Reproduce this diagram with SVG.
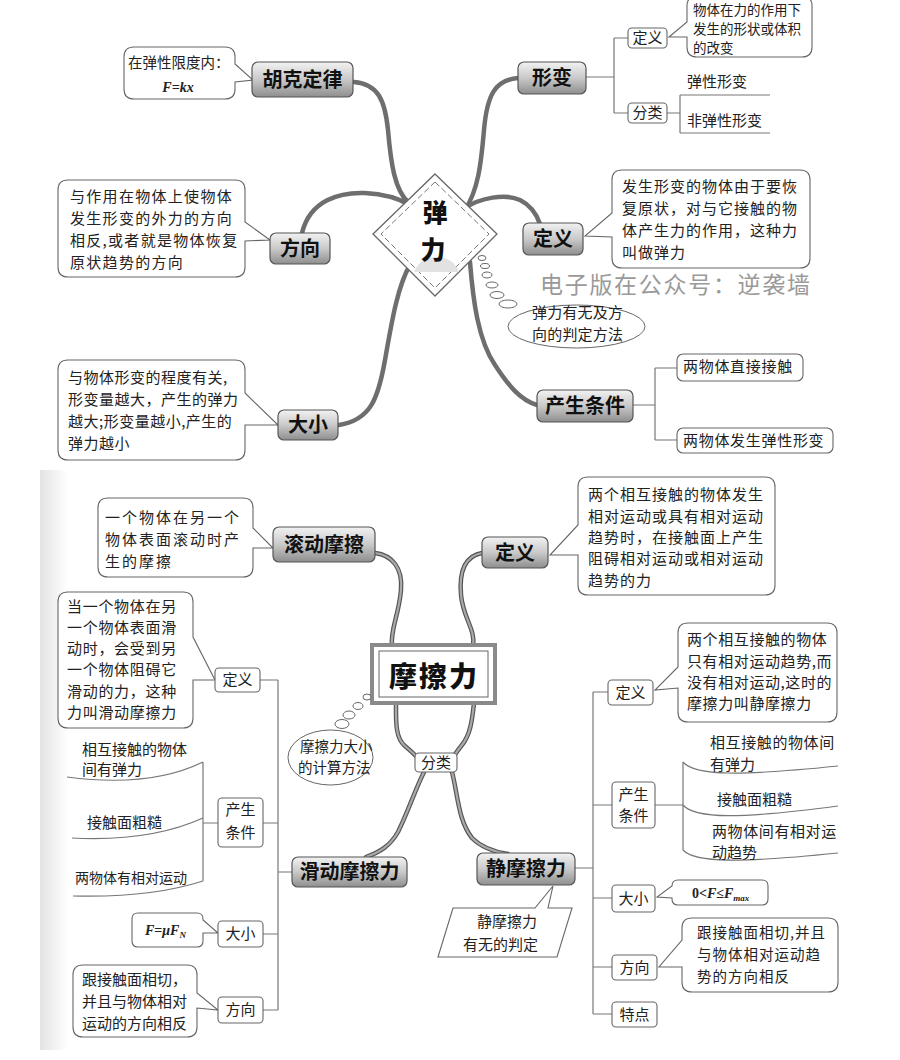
<svg xmlns="http://www.w3.org/2000/svg" width="900" height="1060" viewBox="0 0 900 1060">
<defs>
<linearGradient id="g" x1="0" y1="0" x2="0" y2="1">
<stop offset="0" stop-color="#f2f2f2"/><stop offset="0.5" stop-color="#c9c9c9"/><stop offset="1" stop-color="#8e8e8e"/>
</linearGradient>
<linearGradient id="edge" x1="0" y1="0" x2="1" y2="0">
<stop offset="0" stop-color="#c8c8c8"/><stop offset="1" stop-color="#ffffff"/>
</linearGradient>
<style>
.nd{fill:url(#g);stroke:#555;stroke-width:1.2}
.nt{font-family:'Noto Sans CJK SC',sans-serif;font-weight:700;font-size:20px;text-anchor:middle;fill:#111}
.bx{fill:#fff;stroke:#666;stroke-width:1.1}
.bt{font-family:'Noto Sans CJK SC',sans-serif;font-size:15px;text-anchor:middle;fill:#222}
.co{fill:#fff;stroke:#666;stroke-width:1.1}
.ct{font-family:'Noto Sans CJK SC',sans-serif;font-size:15px;fill:#222}
.fm{font-family:'Liberation Serif',serif;font-style:italic;font-weight:700;font-size:14px;fill:#222}
.br{fill:none;stroke:#777;stroke-width:1.2}
.th{fill:none;stroke:#6e6e6e;stroke-width:4.5;stroke-linecap:round}
.mo{fill:none;stroke:#555;stroke-width:4.5;stroke-linecap:round}
.mi{fill:none;stroke:#aaa;stroke-width:2.2;stroke-linecap:round}
.bub{fill:#fff;stroke:#666;stroke-width:1}
.title{font-family:'Noto Sans CJK SC',sans-serif;font-weight:900;font-size:28px;text-anchor:middle;fill:#111}
</style>
</defs>
<rect width="900" height="1060" fill="#fff"/>
<rect x="40" y="470" width="28" height="580" fill="url(#edge)" opacity="0.5"/>

<!-- watermark -->
<text x="540" y="293" font-family="'Noto Sans CJK SC',sans-serif" font-size="23" letter-spacing="1.7" fill="#9a9a9a">电子版在公众号：逆袭墙</text>

<!-- connectors -->
<g id="connectors">
<path class="th" d="M354,82 C378,84 385,100 388,130 C391,165 395,190 408,202"/>
<path class="th" d="M302,233 C310,200 340,192 365,193 C385,194 398,198 410,205"/>
<path class="th" d="M339,425 C370,420 378,400 385,360 C392,320 398,285 410,265"/>
<path class="th" d="M518,78 C495,80 487,95 484,130 C481,165 478,190 465,210"/>
<path class="th" d="M465,208 C480,198 505,193 520,200 C532,206 537,215 540,224"/>
<path class="th" d="M470,262 C473,300 478,340 495,365 C508,385 520,400 537,405"/>
<path class="br" d="M586,77 H614 M614,38 V113 M614,38 H628 M614,113 H628"/>
<path class="br" d="M667,113 H680 M680,95 V133 M680,95 H770 M680,133 H770"/>
<path class="br" d="M633,405 H655 M655,368 V440 M655,368 H677 M655,440 H677"/>

<g>
<path class="mo" d="M375,553 C392,555 403,568 401,590 C399,615 390,630 392,646"/>
<path class="mi" d="M375,553 C392,555 403,568 401,590 C399,615 390,630 392,646"/>
<path class="mo" d="M482,553 C465,556 459,572 461,595 C463,618 476,630 473,646"/>
<path class="mi" d="M482,553 C465,556 459,572 461,595 C463,618 476,630 473,646"/>
<path class="mo" d="M396,703 C396,720 395,738 405,746 C411,751 415,755 418,758"/>
<path class="mi" d="M396,703 C396,720 395,738 405,746 C411,751 415,755 418,758"/>
<path class="mo" d="M474,703 C472,722 470,735 462,745 C458,750 455,754 453,758"/>
<path class="mi" d="M474,703 C472,722 470,735 462,745 C458,750 455,754 453,758"/>
<path class="mo" d="M424,772 C415,790 408,812 398,832 C390,846 380,852 366,857"/>
<path class="mi" d="M424,772 C415,790 408,812 398,832 C390,846 380,852 366,857"/>
<path class="mo" d="M452,772 C458,795 458,820 472,838 C482,848 495,852 508,854"/>
<path class="mi" d="M452,772 C458,795 458,820 472,838 C482,848 495,852 508,854"/>
</g>

<path class="br" d="M292,872 H278 M278,680 V1010 M260,680 H278 M263,823 H278 M263,934 H278 M263,1010 H278"/>
<path class="br" d="M218,823 H203 M203,762 V881 M67,777 Q150,788 203,762 M72,838 Q150,842 203,818 M73,896 Q150,898 203,881"/>
<path class="br" d="M575,868 H593 M593,692 V1014 M593,692 H608 M593,805 H612 M593,898 H612 M593,967 H612 M593,1014 H612"/>
<path class="br" d="M655,805 H683 M683,762 V850 M683,762 C695,776 740,776 838,766 M683,805 C695,819 740,819 838,806 M683,850 C695,863 740,863 838,853"/>
</g>

<!-- 弹力 center -->
<g id="tanli">
<polygon points="435,174 497,234 435,296 373,234" fill="#fff" stroke="#666" stroke-width="1.3"/>
<polygon points="435,182 489,234 435,288 381,234" fill="none" stroke="#777" stroke-width="1" stroke-dasharray="6,3"/>
<path d="M414,272 Q420,257 437,257 Q454,258 459,272 Z" fill="#e2e2e2"/>
<text class="title" x="435" y="222" style="font-size:25px">弹</text>
<text class="title" x="433" y="259" style="font-size:25px">力</text>
</g>

<g id="hooke">
<path class="co" d="M134,47 H225 Q235,47 235,57 V64 L253,80 L235,82 V89 Q235,99 225,99 H134 Q124,99 124,89 V57 Q124,47 134,47 Z"/>
<text class="ct" x="128" y="68" style="font-size:14.5px">在弹性限度内：</text>
<text class="fm" x="178" y="92" text-anchor="middle">F=kx</text>
<rect class="nd" x="252" y="62" width="101" height="35" rx="6"/>
<text class="nt" x="302.5" y="87">胡克定律</text>
</g>

<g id="fangxiang1">
<path class="co" d="M68,180 H235 Q245,180 245,190 V222 L270,240 L245,241 V267 Q245,277 235,277 H68 Q58,277 58,267 V190 Q58,180 68,180 Z"/>
<text class="ct" x="70" y="202" letter-spacing="1.3">与作用在物体上使物体</text>
<text class="ct" x="70" y="224" letter-spacing="1.3">发生形变的外力的方向</text>
<text class="ct" x="70" y="246" letter-spacing="1.3">相反,或者就是物体恢复</text>
<text class="ct" x="70" y="268" letter-spacing="1.3">原状趋势的方向</text>
<rect class="nd" x="270" y="233" width="60" height="31" rx="6"/>
<text class="nt" x="300" y="256">方向</text>
</g>

<g id="daxiao1">
<path class="co" d="M68,360 H235 Q245,360 245,370 V393 L278,425 L245,425 V450 Q245,460 235,460 H68 Q58,460 58,450 V370 Q58,360 68,360 Z"/>
<text class="ct" x="68" y="383" letter-spacing="0.5">与物体形变的程度有关,</text>
<text class="ct" x="68" y="405" letter-spacing="0.5">形变量越大，产生的弹力</text>
<text class="ct" x="68" y="427" letter-spacing="0.5">越大;形变量越小,产生的</text>
<text class="ct" x="68" y="449" letter-spacing="0.5">弹力越小</text>
<rect class="nd" x="278" y="410" width="60" height="30" rx="6"/>
<text class="nt" x="308" y="432">大小</text>
</g>

<g id="xingbian">
<rect class="nd" x="518" y="62" width="68" height="32" rx="6"/>
<text class="nt" x="552" y="85">形变</text>
<rect class="bx" x="628" y="28" width="39" height="20" rx="4"/>
<text class="bt" x="647.5" y="43">定义</text>
<path class="co" d="M697,-4 H802 Q812,-4 812,6 V47 Q812,57 802,57 H697 Q687,57 687,47 V37 L669,37 L687,22 V6 Q687,-4 697,-4 Z"/>
<text class="ct" x="693" y="15" style="font-size:13.5px">物体在力的作用下</text>
<text class="ct" x="693" y="34" style="font-size:13.5px">发生的形状或体积</text>
<text class="ct" x="693" y="53" style="font-size:13.5px">的改变</text>
<rect class="bx" x="628" y="103" width="39" height="20" rx="4"/>
<text class="bt" x="647.5" y="118">分类</text>
<text class="ct" x="687" y="87">弹性形变</text>
<text class="ct" x="687" y="126">非弹性形变</text>
</g>

<g id="dingyi1">
<path class="co" d="M622,170 H800 Q810,170 810,180 V258 Q810,268 800,268 H622 Q612,268 612,258 V237 L585,236 L612,213 V180 Q612,170 622,170 Z"/>
<text class="ct" x="622" y="192" letter-spacing="1">发生形变的物体由于要恢</text>
<text class="ct" x="622" y="214" letter-spacing="1">复原状，对与它接触的物</text>
<text class="ct" x="622" y="236" letter-spacing="1">体产生力的作用，这种力</text>
<text class="ct" x="622" y="258" letter-spacing="1">叫做弹力</text>
<rect class="nd" x="523" y="223" width="60" height="32" rx="6"/>
<text class="nt" x="553" y="246">定义</text>
</g>

<g id="panding1">
<ellipse class="bub" cx="482" cy="258" rx="4" ry="2.5"/>
<ellipse class="bub" cx="485" cy="266" rx="4.5" ry="2.5"/>
<ellipse class="bub" cx="487" cy="275" rx="5" ry="3"/>
<ellipse class="bub" cx="492" cy="285" rx="6" ry="3"/>
<ellipse class="bub" cx="497" cy="295" rx="7" ry="3.5"/>
<ellipse class="bub" cx="508" cy="304" rx="9" ry="4"/>
<ellipse class="bub" cx="576.5" cy="326.5" rx="68.5" ry="21.5"/>
<text class="ct" x="532" y="318" letter-spacing="0.2">弹力有无及方</text>
<text class="ct" x="532" y="340" letter-spacing="0.2">向的判定方法</text>
</g>

<g id="tiaojian1">
<rect class="nd" x="537" y="390" width="96" height="32" rx="6"/>
<text class="nt" x="585" y="413">产生条件</text>
<rect class="bx" x="677" y="354" width="126" height="27" rx="6"/>
<text class="ct" x="683" y="372" letter-spacing="0.7">两物体直接接触</text>
<rect class="bx" x="677" y="428" width="156" height="25" rx="6"/>
<text class="ct" x="683" y="446" letter-spacing="0.7">两物体发生弹性形变</text>
</g>

<!-- 摩擦力 center -->
<g id="mocali">
<rect x="372" y="645" width="123" height="58" fill="#fff" stroke="#8a8a8a" stroke-width="4"/>
<rect x="379" y="651" width="109" height="46" fill="none" stroke="#666" stroke-width="1"/>
<text class="title" x="434" y="687" letter-spacing="2">摩擦力</text>
</g>

<g id="fenlei2">
<rect class="bx" x="415" y="753" width="42" height="19" rx="4"/>
<text class="bt" x="436" y="768">分类</text>
</g>

<g id="gundong">
<path class="co" d="M108,498 H243 Q253,498 253,508 V528 L273,548 L253,548 V567 Q253,577 243,577 H108 Q98,577 98,567 V508 Q98,498 108,498 Z"/>
<text class="ct" x="105" y="523" letter-spacing="2">一个物体在另一个</text>
<text class="ct" x="105" y="545" letter-spacing="2">物体表面滚动时产</text>
<text class="ct" x="105" y="567" letter-spacing="2">生的摩擦</text>
<rect class="nd" x="273" y="527" width="102" height="35" rx="6"/>
<text class="nt" x="324" y="552">滚动摩擦</text>
</g>

<g id="dingyi2">
<path class="co" d="M588,477 H765 Q775,477 775,487 V585 Q775,595 765,595 H588 Q578,595 578,585 V555 L550,555 L578,525 V487 Q578,477 588,477 Z"/>
<text class="ct" x="588" y="500" letter-spacing="1">两个相互接触的物体发生</text>
<text class="ct" x="588" y="522" letter-spacing="1">相对运动或具有相对运动</text>
<text class="ct" x="588" y="543" letter-spacing="1">趋势时，在接触面上产生</text>
<text class="ct" x="588" y="564" letter-spacing="1">阻碍相对运动或相对运动</text>
<text class="ct" x="588" y="586" letter-spacing="1">趋势的力</text>
<rect class="nd" x="482" y="537" width="66" height="31" rx="6"/>
<text class="nt" x="515" y="560">定义</text>
</g>

<g id="jisuan">
<ellipse class="bub" cx="367" cy="697" rx="4" ry="3"/>
<ellipse class="bub" cx="358" cy="706" rx="5" ry="3.5"/>
<ellipse class="bub" cx="349" cy="715" rx="6" ry="4"/>
<ellipse class="bub" cx="342" cy="724" rx="7" ry="4.5"/>
<ellipse class="bub" cx="330.5" cy="757.5" rx="42.5" ry="27.5"/>
<text class="ct" x="300" y="752" style="font-size:14.5px">摩擦力大小</text>
<text class="ct" x="298" y="773" style="font-size:14.5px">的计算方法</text>
</g>

<g id="huadong">
<rect class="nd" x="292" y="857" width="115" height="30" rx="6"/>
<text class="nt" x="349.5" y="879">滑动摩擦力</text>
<path class="co" d="M68,592 H183 Q193,592 193,602 V637 L215,680 L193,680 V718 Q193,728 183,728 H68 Q58,728 58,718 V602 Q58,592 68,592 Z"/>
<text class="ct" x="67" y="612" letter-spacing="0.7">当一个物体在另</text>
<text class="ct" x="67" y="633" letter-spacing="0.7">一个物体表面滑</text>
<text class="ct" x="67" y="654" letter-spacing="0.7">动时，会受到另</text>
<text class="ct" x="67" y="675" letter-spacing="0.7">一个物体阻碍它</text>
<text class="ct" x="67" y="697" letter-spacing="0.7">滑动的力，这种</text>
<text class="ct" x="67" y="718" letter-spacing="0.7">力叫滑动摩擦力</text>
<rect class="bx" x="215" y="668" width="45" height="24" rx="4"/>
<text class="bt" x="237.5" y="685">定义</text>
<rect class="bx" x="218" y="798" width="45" height="49" rx="4"/>
<text class="bt" x="240.5" y="815">产生</text>
<text class="bt" x="240.5" y="838">条件</text>
<text class="ct" x="82" y="755">相互接触的物体</text>
<text class="ct" x="82" y="775">间有弹力</text>
<text class="ct" x="87" y="828">接触面粗糙</text>
<text class="ct" x="75" y="883" style="font-size:14px">两物体有相对运动</text>
<path class="co" d="M138,913 H197 Q203,913 203,919 V920 L218,933 L203,933 V941 Q203,947 197,947 H138 Q132,947 132,941 V919 Q132,913 138,913 Z"/>
<text class="fm" x="145" y="935">F<tspan font-style="normal">=</tspan>μF<tspan font-size="9" dy="3">N</tspan></text>
<rect class="bx" x="218" y="921" width="45" height="26" rx="4"/>
<text class="bt" x="240.5" y="939">大小</text>
<path class="co" d="M83,965 H187 Q197,965 197,975 V993 L218,1010 L197,1008 V1027 Q197,1037 187,1037 H83 Q73,1037 73,1027 V975 Q73,965 83,965 Z"/>
<text class="ct" x="82" y="985">跟接触面相切，</text>
<text class="ct" x="82" y="1007">并且与物体相对</text>
<text class="ct" x="82" y="1029">运动的方向相反</text>
<rect class="bx" x="218" y="997" width="45" height="26" rx="4"/>
<text class="bt" x="240.5" y="1015">方向</text>
</g>

<g id="jingmoca">
<path class="co" d="M453,908 H535 L553,886 L548,908 H572 L557,957 H438 Z"/>
<rect class="nd" x="477" y="853" width="98" height="32" rx="6"/>
<text class="nt" x="526" y="876">静摩擦力</text>
<text class="ct" x="477" y="927">静摩擦力</text>
<text class="ct" x="463" y="950">有无的判定</text>
<path class="co" d="M688,623 H827 Q837,623 837,633 V712 Q837,722 827,722 H688 Q678,722 678,712 V688 L655,690 L678,667 V633 Q678,623 688,623 Z"/>
<text class="ct" x="687" y="645" letter-spacing="0.6">两个相互接触的物体</text>
<text class="ct" x="687" y="667" letter-spacing="0.6">只有相对运动趋势,而</text>
<text class="ct" x="687" y="688" letter-spacing="0.6">没有相对运动,这时的</text>
<text class="ct" x="687" y="709" letter-spacing="0.6">摩擦力叫静摩擦力</text>
<rect class="bx" x="608" y="680" width="45" height="25" rx="4"/>
<text class="bt" x="630.5" y="698">定义</text>
<rect class="bx" x="612" y="782" width="43" height="46" rx="4"/>
<text class="bt" x="633.5" y="800">产生</text>
<text class="bt" x="633.5" y="821">条件</text>
<text class="ct" x="710" y="748" letter-spacing="0.6">相互接触的物体间</text>
<text class="ct" x="710" y="770">有弹力</text>
<text class="ct" x="717" y="805">接触面粗糙</text>
<text class="ct" x="712" y="837" letter-spacing="0.6">两物体间有相对运</text>
<text class="ct" x="712" y="858">动趋势</text>
<path class="co" d="M678,880 H762 Q768,880 768,886 V899 Q768,905 762,905 H678 Q672,905 672,899 V898 L657,897 L672,886 Q672,880 678,880 Z"/>
<text class="fm" x="692" y="898"><tspan font-style="normal">0&lt;</tspan>F<tspan font-style="normal">≤</tspan>F<tspan font-size="9" dy="3">max</tspan></text>
<rect class="bx" x="612" y="885" width="43" height="27" rx="4"/>
<text class="bt" x="633.5" y="904">大小</text>
<path class="co" d="M692,918 H828 Q838,918 838,928 V982 Q838,992 828,992 H692 Q682,992 682,982 V967 L659,967 L682,940 V928 Q682,918 692,918 Z"/>
<text class="ct" x="697" y="938" style="font-size:14.5px" letter-spacing="1">跟接触面相切,并且</text>
<text class="ct" x="697" y="960" style="font-size:14.5px" letter-spacing="1">与物体相对运动趋</text>
<text class="ct" x="697" y="982" style="font-size:14.5px" letter-spacing="1">势的方向相反</text>
<rect class="bx" x="612" y="955" width="45" height="25" rx="4"/>
<text class="bt" x="634.5" y="973">方向</text>
<rect class="bx" x="612" y="1002" width="45" height="25" rx="4"/>
<text class="bt" x="634.5" y="1020">特点</text>
</g>
</svg>
